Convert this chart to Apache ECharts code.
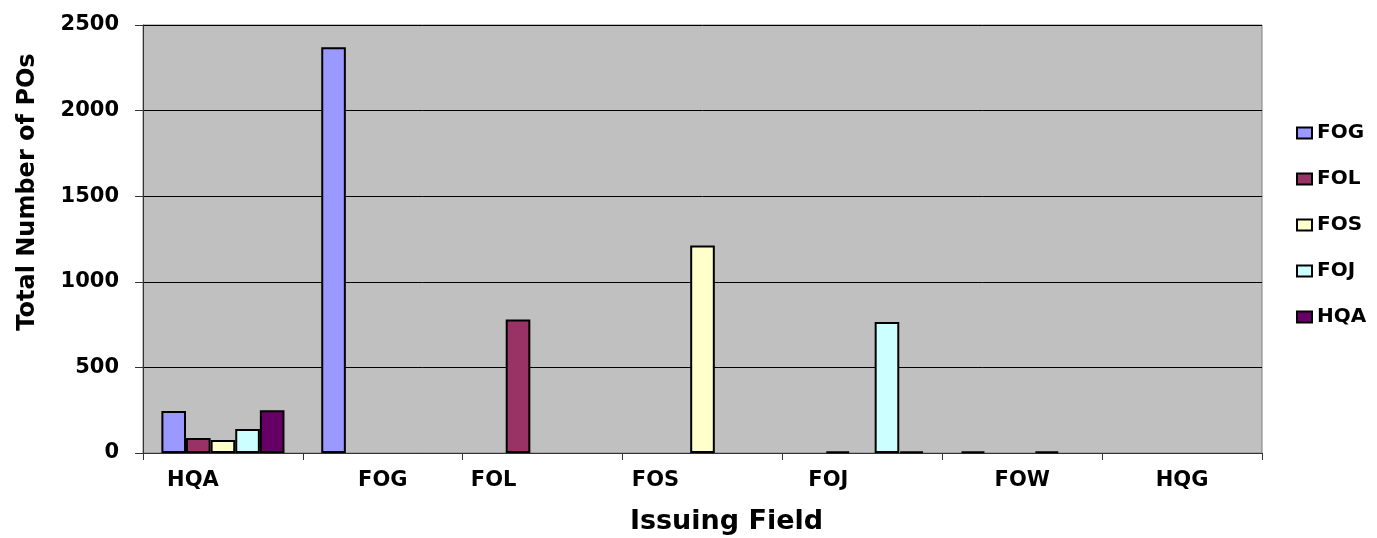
<!DOCTYPE html>
<html>
<head>
<meta charset="utf-8">
<script src="https://cdn.jsdelivr.net/npm/echarts@6/dist/echarts.min.js"></script>
<style>
  html, body { margin: 0; padding: 0; background: #fff; }
  #main { width: 1377px; height: 538px; }
</style>
</head>
<body>
<div id="main"></div>
<script>
// categories on the x axis (issuing field)
const categories = ["HQA", "FOG", "FOL", "FOS", "FOJ", "FOW", "HQG"];
const seriesNames = ["FOG", "FOL", "FOS", "FOJ", "HQA"];

// values per series, one per category (0 = no bar)
const fogValues = [245, 2370, 0, 0, 0, 10, 0];
const folValues = [88, 0, 780, 0, 10, 0, 0];
const fosValues = [76, 0, 0, 1212, 0, 0, 0];
const fojValues = [140, 0, 0, 0, 765, 10, 0];
const hqaValues = [250, 0, 0, 0, 10, 0, 0];

const yTicks = [0, 500, 1000, 1500, 2000, 2500];

// styling
const colors = ["#9999FF", "#993366", "#FFFFCC", "#CCFFFF", "#660066"];
const labelNudge = [-30, 0, -49, -47, -34, 0, 0]; // excel puts some labels off-centre
const font = "DejaVu Sans";

const allValues = [fogValues, folValues, fosValues, fojValues, hqaValues];

var myChart = echarts.init(document.getElementById("main"));

var option = {
  backgroundColor: "#ffffff",
  animation: false,
  grid: {
    left: 143,
    right: 115,
    top: 25,
    bottom: 85,
    outerBoundsMode: "none",
    show: true,
    backgroundColor: "#C0C0C0",
    borderColor: "#808080",
    borderWidth: 1,
  },
  legend: {
    orient: "vertical",
    left: 1296,
    top: 123,
    padding: 0,
    itemGap: 26,
    itemWidth: 15,
    itemHeight: 11,
    icon: "rect",
    data: seriesNames,
    textStyle: { fontFamily: font, fontWeight: "bold", fontSize: 20, color: "#000" },
  },
  xAxis: {
    type: "category",
    data: categories.map((c, i) => ({
      value: c,
      textStyle: { padding: [0, labelNudge[i] < 0 ? -2 * labelNudge[i] : 0, 0, 0] },
    })),
    name: "Issuing Field",
    nameLocation: "middle",
    nameGap: 55,
    nameTextStyle: { fontFamily: font, fontWeight: "bold", fontSize: 27, color: "#000", padding: [0, 0, 0, 48] },
    axisLine: { lineStyle: { color: "#333", width: 1 } },
    axisTick: { show: true, length: 7, lineStyle: { color: "#333" } },
    axisLabel: { fontFamily: font, fontWeight: "bold", fontSize: 21, color: "#000", margin: 17 },
  },
  yAxis: {
    type: "value",
    min: yTicks[0],
    max: yTicks[yTicks.length - 1],
    interval: 500,
    name: "Total Number of POs",
    nameLocation: "middle",
    nameGap: 103,
    nameTextStyle: { fontFamily: font, fontWeight: "bold", fontSize: 24, color: "#000", padding: [0, 0, 0, 94] },
    axisLine: { show: true, lineStyle: { color: "#333", width: 1 } },
    axisTick: { show: true, length: 8, lineStyle: { color: "#333" } },
    axisLabel: {
      fontFamily: font, fontWeight: "bold", fontSize: 21, color: "#000", margin: 24,
      formatter: (v) => String(v),
    },
    splitLine: { show: true, lineStyle: { color: "#000", width: 1 } },
  },
  series: seriesNames.map((name, i) => ({
    name: name,
    type: "bar",
    data: allValues[i].map((v) => (v === 0 ? "-" : v)),
    barGap: "0%",
    barCategoryGap: "23%",
    itemStyle: { color: colors[i], borderColor: "#000", borderWidth: 2 },
  })),
};

myChart.setOption(option);
</script>
</body>
</html>
